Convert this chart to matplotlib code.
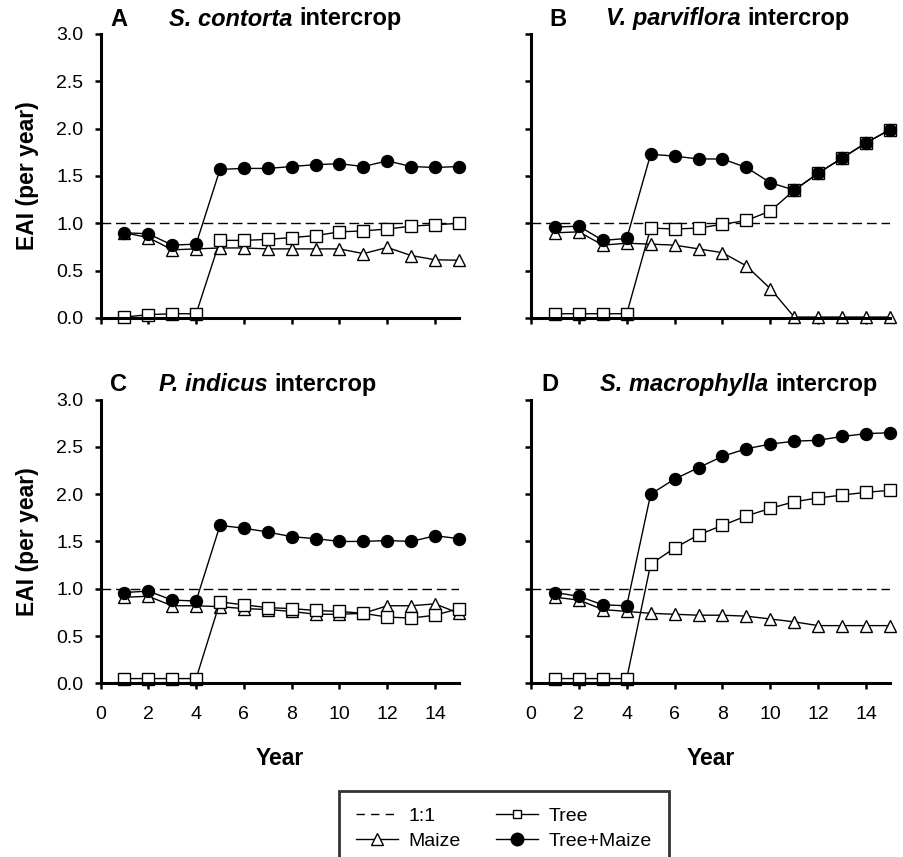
import matplotlib
matplotlib.use("Agg")
import matplotlib.pyplot as plt
from matplotlib.lines import Line2D

plt.rcParams['font.family'] = ['Liberation Sans', 'DejaVu Sans']

years = list(range(1, 16))
panel_letters = ["A", "B", "C", "D"]
species = ["S. contorta", "V. parviflora", "P. indicus", "S. macrophylla"]
title_suffix = "intercrop"

tree_A = [0.01, 0.035, 0.045, 0.045, 0.82, 0.82, 0.83, 0.85, 0.87, 0.91, 0.92, 0.94, 0.97, 0.985, 1.00]
maize_A = [0.90, 0.85, 0.72, 0.73, 0.74, 0.74, 0.73, 0.73, 0.73, 0.73, 0.68, 0.745, 0.66, 0.615, 0.61]
both_A = [0.90, 0.89, 0.77, 0.78, 1.57, 1.58, 1.58, 1.60, 1.62, 1.63, 1.60, 1.66, 1.60, 1.59, 1.60]

tree_B = [0.045, 0.045, 0.045, 0.045, 0.95, 0.94, 0.95, 0.99, 1.03, 1.13, 1.35, 1.53, 1.69, 1.85, 1.99]
maize_B = [0.90, 0.91, 0.77, 0.79, 0.78, 0.77, 0.73, 0.69, 0.55, 0.31, 0.01, 0.01, 0.01, 0.01, 0.01]
both_B = [0.96, 0.97, 0.82, 0.84, 1.73, 1.71, 1.68, 1.68, 1.59, 1.43, 1.35, 1.53, 1.69, 1.85, 1.99]

tree_C = [0.05, 0.05, 0.05, 0.05, 0.86, 0.83, 0.80, 0.79, 0.77, 0.76, 0.74, 0.70, 0.69, 0.72, 0.79]
maize_C = [0.91, 0.92, 0.82, 0.82, 0.81, 0.79, 0.78, 0.76, 0.73, 0.73, 0.74, 0.82, 0.82, 0.84, 0.74]
both_C = [0.96, 0.975, 0.88, 0.87, 1.67, 1.64, 1.60, 1.55, 1.53, 1.50, 1.50, 1.51, 1.50, 1.56, 1.53]

tree_D = [0.05, 0.05, 0.05, 0.05, 1.26, 1.43, 1.57, 1.67, 1.77, 1.85, 1.92, 1.96, 1.99, 2.02, 2.04]
maize_D = [0.91, 0.88, 0.78, 0.76, 0.74, 0.73, 0.72, 0.72, 0.71, 0.68, 0.65, 0.61, 0.61, 0.61, 0.61]
both_D = [0.96, 0.92, 0.83, 0.82, 2.00, 2.16, 2.28, 2.40, 2.48, 2.53, 2.56, 2.57, 2.61, 2.64, 2.65]

trees = [tree_A, tree_B, tree_C, tree_D]
maizes = [maize_A, maize_B, maize_C, maize_D]
boths = [both_A, both_B, both_C, both_D]

y_ticks = [0.0, 0.5, 1.0, 1.5, 2.0, 2.5, 3.0]
x_ticks = [0, 2, 4, 6, 8, 10, 12, 14]
ratio_line = 1.0

W, H = 904, 857
fig = plt.figure(figsize=(W / 100, H / 100), dpi=100)

# axes boxes in pixels: left, top, right, bottom
boxes = [(100.5, 34, 459, 318), (531, 34, 890, 318),
         (100.5, 399.6, 459, 683.3), (531, 399.6, 890, 683.3)]
title_centers = [285.5, 727.5, 267.5, 739]
letter_x = [110, 549, 110, 541]

dash = (0, (7, 3.5))
lw_axis = 2.2
title_fs = 17

axes = []
for i, (l, t, r, b) in enumerate(boxes):
    ax = fig.add_axes([l / W, 1 - b / H, (r - l) / W, (b - t) / H])
    axes.append(ax)
    ax.set_xlim(0, 15)
    ax.set_ylim(0, 3.0)
    ax.axhline(ratio_line, color='black', lw=1.0, linestyle=dash, zorder=2)
    ax.plot(years, maizes[i], color='black', lw=1.0, marker='^', markersize=9,
            markerfacecolor='white', markeredgecolor='black', markeredgewidth=1.0,
            clip_on=False, zorder=3)
    ax.plot(years, trees[i], color='black', lw=1.0, marker='s', markersize=8,
            markerfacecolor='white', markeredgecolor='black', markeredgewidth=1.0,
            clip_on=False, zorder=4)
    ax.plot(years, boths[i], color='black', lw=1.0, marker='o', markersize=8.6,
            markerfacecolor='black', markeredgecolor='black',
            clip_on=False, zorder=5)
    for s in ['top', 'right']:
        ax.spines[s].set_visible(False)
    for s in ['left', 'bottom']:
        ax.spines[s].set_linewidth(lw_axis)
        ax.spines[s].set_zorder(6)
    ax.set_xticks(x_ticks)
    ax.set_yticks(y_ticks)
    ax.tick_params(direction='out', length=4.5, width=1.8, labelsize=14)
    ax.tick_params(axis='x', pad=12)
    ax.tick_params(axis='y', pad=8)
    if i in (0, 2):
        ax.set_yticklabels([f"{v:.1f}" for v in y_ticks])
        ax.set_ylabel("EAI (per year)", fontsize=16.5, fontweight='bold', labelpad=12)
    else:
        ax.set_yticklabels([])
    if i in (2, 3):
        ax.set_xticklabels([str(v) for v in x_ticks])
        ax.set_xlabel("Year", fontsize=16.5, fontweight='bold', labelpad=17)
    else:
        ax.set_xticklabels([])

# titles
renderer = fig.canvas.get_renderer()
for i, (l, t, r, b) in enumerate(boxes):
    ty = 1 - (t - 15) / H
    fig.text(letter_x[i] / W, ty, panel_letters[i], fontsize=title_fs, fontweight='bold',
             ha='left', va='center')
    t1 = fig.text(0, ty, species[i] + " ", fontsize=title_fs, fontweight='bold',
                  style='italic', ha='left', va='center')
    t2 = fig.text(0, ty, title_suffix, fontsize=title_fs, fontweight='bold',
                  ha='left', va='center')
    w1 = t1.get_window_extent(renderer).width
    w2 = t2.get_window_extent(renderer).width
    x0 = title_centers[i] - (w1 + w2) / 2
    t1.set_x(x0 / W)
    t2.set_x((x0 + w1) / W)

# legend
handles = [
    Line2D([], [], color='black', lw=1.0, linestyle=(0, (6, 4.5))),
    Line2D([], [], color='black', lw=1.0, marker='^', markersize=8,
           markerfacecolor='white', markeredgecolor='black'),
    Line2D([], [], color='black', lw=1.0, marker='s', markersize=5.5,
           markerfacecolor='white', markeredgecolor='black'),
    Line2D([], [], color='black', lw=1.0, marker='o', markersize=9,
           markerfacecolor='black', markeredgecolor='black'),
]
labels = ["1:1", "Maize", "Tree", "Tree+Maize"]
leg = fig.legend(handles, labels, ncol=2, loc='upper left',
                 bbox_to_anchor=(339 / W, 1 - 791 / H), fontsize=14,
                 frameon=True, fancybox=False, handlelength=2.16,
                 handletextpad=0.57, columnspacing=1.8, labelspacing=0.38,
                 borderpad=0.85, borderaxespad=0)
leg.get_frame().set_edgecolor('black')
leg.get_frame().set_linewidth(2.0)

fig.savefig("out.png", dpi=100)
